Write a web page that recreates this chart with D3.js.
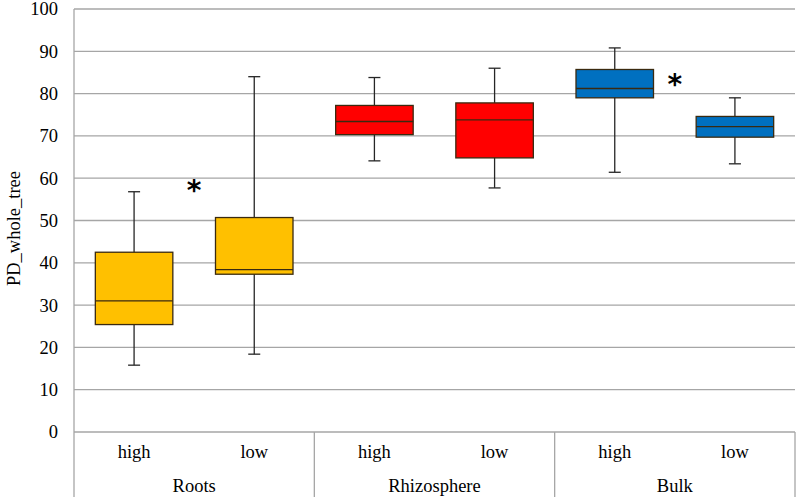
<!DOCTYPE html>
<html>
<head>
<meta charset="utf-8">
<script src="https://cdn.jsdelivr.net/npm/d3@7"></script>
<style>
  body { margin: 0; background: #fff; }
</style>
</head>
<body>
<div id="vis"></div>
<script>
const FRAME_WIDTH = 800;
const FRAME_HEIGHT = 501;
const MARGINS = {left: 74, right: 5, top: 9, bottom: 69};
const VIS_WIDTH = FRAME_WIDTH - MARGINS.left - MARGINS.right;
const VIS_HEIGHT = FRAME_HEIGHT - MARGINS.top - MARGINS.bottom;
const SERIF = "'Liberation Serif', 'Times New Roman', Times, serif";
const FONT_SIZE = "18.5px";

// data
const groups = ["Roots", "Rhizosphere", "Bulk"];
const levels = ["high", "low"];
const groupColors = ["#FFC000", "#FF0000", "#0070C0"];
const whiskerLow  = [15.8, 18.4, 64.1, 57.7, 61.4, 63.4];
const q1          = [25.4, 37.3, 70.3, 64.8, 79.0, 69.7];
const medians     = [31.0, 38.4, 73.4, 73.8, 81.2, 72.2];
const q3          = [42.5, 50.7, 77.2, 77.8, 85.7, 74.6];
const whiskerHigh = [56.8, 84.0, 83.8, 86.0, 90.8, 79.0];
const starGroups  = ["Roots", "Bulk"];
const starValues  = [58.5, 83.5];
const yTicks = d3.range(0, 101, 10);

const boxes = [];
groups.forEach((g, gi) => {
  levels.forEach((l, li) => {
    const i = gi * 2 + li;
    boxes.push({group: g, level: l, key: g + "|" + l, color: groupColors[gi],
      lo: whiskerLow[i], q1: q1[i], med: medians[i], q3: q3[i], hi: whiskerHigh[i]});
  });
});

const FRAME = d3.select("#vis")
  .append("svg")
    .attr("width", FRAME_WIDTH)
    .attr("height", FRAME_HEIGHT);

const Y_SCALE = d3.scaleLinear()
  .domain([0, 100])
  .range([MARGINS.top + VIS_HEIGHT, MARGINS.top]);

const X_SCALE = d3.scaleBand()
  .domain(boxes.map(d => d.key))
  .range([MARGINS.left, MARGINS.left + VIS_WIDTH])
  .paddingInner(0.355)
  .paddingOuter(0.1775);

const GROUP_SCALE = d3.scaleBand()
  .domain(groups)
  .range([MARGINS.left, MARGINS.left + VIS_WIDTH]);

// gridlines
FRAME.append("g")
  .selectAll("line")
  .data(yTicks)
  .enter()
  .append("line")
    .attr("x1", MARGINS.left)
    .attr("x2", MARGINS.left + VIS_WIDTH)
    .attr("y1", d => Y_SCALE(d))
    .attr("y2", d => Y_SCALE(d))
    .attr("stroke", "#a6a6a6")
    .attr("stroke-width", 1.3);

// y axis
const yAxis = FRAME.append("g")
  .attr("transform", "translate(" + MARGINS.left + ",0)")
  .call(d3.axisLeft(Y_SCALE).tickValues(yTicks).tickSize(0).tickPadding(16));
yAxis.select(".domain").remove();
yAxis.selectAll("text")
  .style("font-size", FONT_SIZE)
  .style("font-family", SERIF)
  .attr("fill", "#000");

// vertical frame lines: left, group separators, right
const sepX = groups.map(g => GROUP_SCALE(g)).concat([MARGINS.left + VIS_WIDTH]);
FRAME.append("g")
  .selectAll("line")
  .data(sepX)
  .enter()
  .append("line")
    .attr("x1", d => d)
    .attr("x2", d => d)
    .attr("y1", (d, i) => i === 0 ? MARGINS.top : Y_SCALE(0))
    .attr("y2", FRAME_HEIGHT - 4)
    .attr("stroke", "#a6a6a6")
    .attr("stroke-width", 1.3);

// level labels
FRAME.append("g")
  .selectAll("text")
  .data(boxes)
  .enter()
  .append("text")
    .attr("x", d => X_SCALE(d.key) + X_SCALE.bandwidth() / 2)
    .attr("y", 458)
    .attr("text-anchor", "middle")
    .style("font-size", FONT_SIZE)
    .style("font-family", SERIF)
    .text(d => d.level);

// group labels
FRAME.append("g")
  .selectAll("text")
  .data(groups)
  .enter()
  .append("text")
    .attr("x", d => GROUP_SCALE(d) + GROUP_SCALE.bandwidth() / 2)
    .attr("y", 492)
    .attr("text-anchor", "middle")
    .style("font-size", FONT_SIZE)
    .style("font-family", SERIF)
    .text(d => d);

// y title
FRAME.append("text")
  .attr("transform", "translate(20," + (MARGINS.top + VIS_HEIGHT / 2 + 8) + ") rotate(-90)")
  .attr("text-anchor", "middle")
  .style("font-size", FONT_SIZE)
  .style("font-family", SERIF)
  .text("PD_whole_tree");

// boxplots
const bw = X_SCALE.bandwidth();
const capW = 12;
const boxG = FRAME.append("g")
  .selectAll("g")
  .data(boxes)
  .enter()
  .append("g");

boxG.append("line")
  .attr("x1", d => X_SCALE(d.key) + bw / 2)
  .attr("x2", d => X_SCALE(d.key) + bw / 2)
  .attr("y1", d => Y_SCALE(d.lo))
  .attr("y2", d => Y_SCALE(d.hi))
  .attr("stroke", "#262626")
  .attr("stroke-width", 1.3);

boxG.selectAll(".cap")
  .data(d => [d, d].map((b, i) => ({x: X_SCALE(b.key) + bw / 2, v: i ? b.hi : b.lo})))
  .enter()
  .append("line")
    .attr("class", "cap")
    .attr("x1", d => d.x - capW / 2)
    .attr("x2", d => d.x + capW / 2)
    .attr("y1", d => Y_SCALE(d.v))
    .attr("y2", d => Y_SCALE(d.v))
    .attr("stroke", "#262626")
    .attr("stroke-width", 1.3);

boxG.append("rect")
  .attr("x", d => X_SCALE(d.key))
  .attr("width", bw)
  .attr("y", d => Y_SCALE(d.q3))
  .attr("height", d => Y_SCALE(d.q1) - Y_SCALE(d.q3))
  .attr("fill", d => d.color)
  .attr("stroke", "#3a2a10")
  .attr("stroke-width", 1.3);

boxG.append("line")
  .attr("x1", d => X_SCALE(d.key))
  .attr("x2", d => X_SCALE(d.key) + bw)
  .attr("y1", d => Y_SCALE(d.med))
  .attr("y2", d => Y_SCALE(d.med))
  .attr("stroke", "#3a2a10")
  .attr("stroke-width", 1.3);

// significance asterisks
FRAME.append("g")
  .selectAll("text")
  .data(starGroups.map((g, i) => ({g: g, v: starValues[i]})))
  .enter()
  .append("text")
    .attr("x", d => GROUP_SCALE(d.g) + GROUP_SCALE.bandwidth() / 2)
    .attr("y", d => Y_SCALE(d.v) + 15)
    .attr("text-anchor", "middle")
    .style("font-size", "28px")
    .style("font-weight", "bold")
    .style("font-family", "'DejaVu Sans', sans-serif")
    .text("*");
</script>
</body>
</html>
